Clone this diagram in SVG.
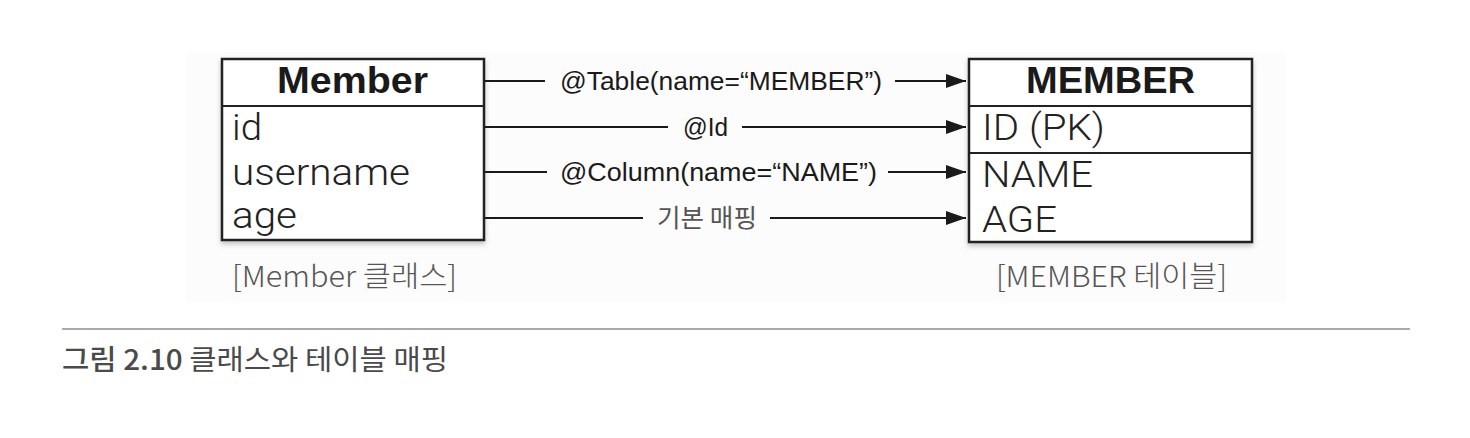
<svg xmlns="http://www.w3.org/2000/svg" width="1470" height="438" viewBox="0 0 1470 438">
<defs>
<marker id="arr" markerUnits="userSpaceOnUse" markerWidth="20" markerHeight="14" refX="20" refY="7" orient="auto">
<path d="M0,0 L20,7 L0,14 Z" fill="#1a1a1a"/>
</marker>
<filter id="sh" x="-5%" y="-5%" width="110%" height="115%">
<feDropShadow dx="0" dy="3" stdDeviation="2.5" flood-color="#000" flood-opacity="0.22"/>
</filter>
<style>
.box{fill:#fff;stroke:#222;stroke-width:2.5}
.div{stroke:#222;stroke-width:2}
.hd{font-family:"Liberation Sans",Arial,sans-serif;font-weight:bold;font-size:36px;fill:#1a1a1a}
.fld{font-family:Roboto,"Liberation Sans",sans-serif;font-weight:300;font-size:37px;fill:#222}
.cap{font-family:"Noto Sans CJK KR","Liberation Sans",sans-serif;font-weight:300;font-size:29px;fill:#555}
.lbl{font-family:"Liberation Sans","Noto Sans CJK KR",sans-serif;font-size:25px;fill:#1a1a1a}
.lblk{font-family:"Noto Sans CJK KR",sans-serif;font-size:25px;fill:#555}
.ln{stroke:#1a1a1a;stroke-width:2;fill:none}
.fig{font-family:"Noto Sans CJK KR",sans-serif;font-size:28px;fill:#4a4a4a}
</style>
</defs>
<rect x="0" y="0" width="1470" height="438" fill="#fff"/>
<rect x="186" y="52" width="1100" height="250" fill="#fcfcfc"/>

<g id="member-class">
<rect class="box" x="222" y="59" width="262" height="181" filter="url(#sh)"/>
<line class="div" x1="222" y1="106" x2="484" y2="106"/>
<text class="hd" x="277" y="93" textLength="151" lengthAdjust="spacingAndGlyphs">Member</text>
<text class="fld" x="232" y="140" textLength="30" lengthAdjust="spacingAndGlyphs">id</text>
<text class="fld" x="232" y="185" textLength="178" lengthAdjust="spacingAndGlyphs">username</text>
<text class="fld" x="232" y="228" textLength="65" lengthAdjust="spacingAndGlyphs">age</text>
</g>
<text id="member-class-caption" class="cap" x="232" y="287" textLength="225" lengthAdjust="spacingAndGlyphs">[Member 클래스]</text>

<g id="member-table">
<rect class="box" x="969" y="59" width="283" height="183" filter="url(#sh)"/>
<line class="div" x1="969" y1="106" x2="1252" y2="106"/>
<line class="div" x1="969" y1="153" x2="1252" y2="153"/>
<text class="hd" x="1026" y="93" textLength="169" lengthAdjust="spacingAndGlyphs">MEMBER</text>
<text class="fld" x="982" y="140" textLength="123" lengthAdjust="spacingAndGlyphs">ID (PK)</text>
<text class="fld" x="982" y="187" textLength="111" lengthAdjust="spacingAndGlyphs">NAME</text>
<text class="fld" x="982" y="232" textLength="75" lengthAdjust="spacingAndGlyphs">AGE</text>
</g>
<text id="member-table-caption" class="cap" x="996" y="287" textLength="231" lengthAdjust="spacingAndGlyphs">[MEMBER 테이블]</text>

<g id="connectors">
<line class="ln" x1="485" y1="81" x2="545" y2="81"/>
<line class="ln" x1="895" y1="81" x2="966" y2="81" marker-end="url(#arr)"/>
<text class="lbl" x="560" y="90" textLength="322" lengthAdjust="spacingAndGlyphs">@Table(name=“MEMBER”)</text>

<line class="ln" x1="485" y1="127" x2="668" y2="127"/>
<line class="ln" x1="742" y1="127" x2="966" y2="127" marker-end="url(#arr)"/>
<text class="lbl" x="683" y="136" textLength="45" lengthAdjust="spacingAndGlyphs">@Id</text>

<line class="ln" x1="485" y1="172" x2="547" y2="172"/>
<line class="ln" x1="888" y1="172" x2="966" y2="172" marker-end="url(#arr)"/>
<text class="lbl" x="560" y="181" textLength="317" lengthAdjust="spacingAndGlyphs">@Column(name=“NAME”)</text>

<line class="ln" x1="485" y1="218" x2="643" y2="218"/>
<line class="ln" x1="770" y1="218" x2="966" y2="218" marker-end="url(#arr)"/>
<text class="lblk" x="657" y="227" textLength="100" lengthAdjust="spacingAndGlyphs">기본 매핑</text>
</g>

<line x1="62" y1="329" x2="1410" y2="329" stroke="#aaa" stroke-width="2"/>
<text id="figure-caption" class="fig" x="62" y="370" textLength="386" lengthAdjust="spacingAndGlyphs"><tspan font-weight="500">그림 2.10</tspan> 클래스와 테이블 매핑</text>
</svg>
